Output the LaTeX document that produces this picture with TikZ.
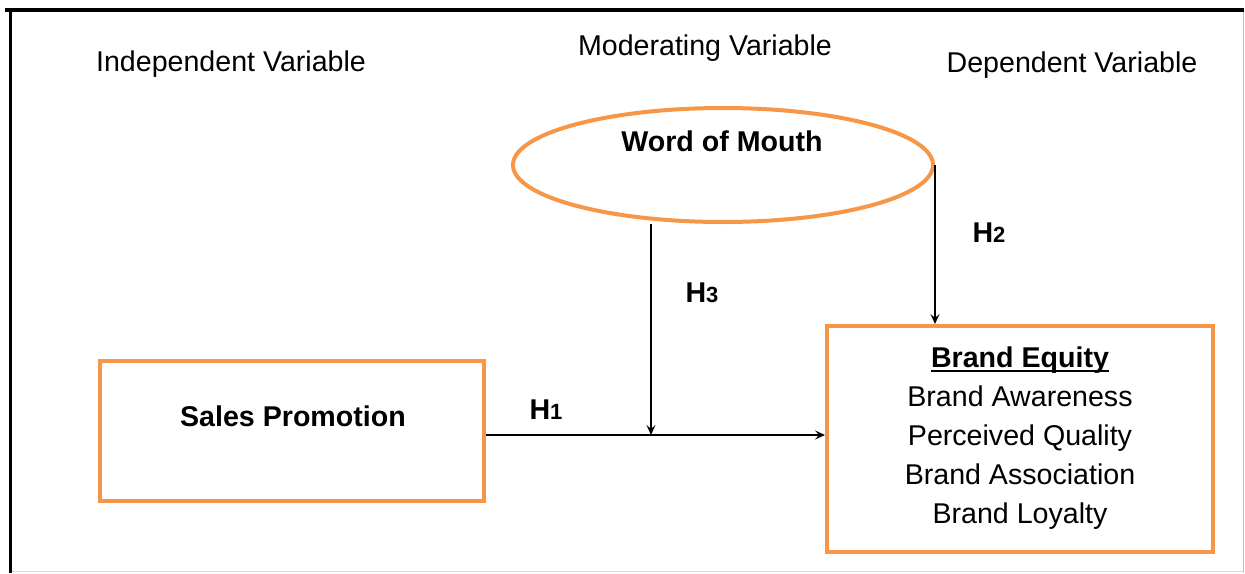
\documentclass[tikz,border=0pt]{standalone}
\usepackage{fontspec}
\setmainfont{Liberation Sans}
\usetikzlibrary{shapes.geometric,arrows.meta}
\definecolor{boxorange}{HTML}{F79646}
\newcommand{\hyp}[1]{\textbf{H\fontsize{22}{26}\selectfont #1}}
\newcommand{\thickul}[1]{\setbox0=\hbox{#1}\leavevmode\rlap{\raisebox{-4pt}{\rule{\wd0}{2.2pt}}}\box0}
\tikzset{
  txt/.style={font=\fontsize{28.6}{39}\selectfont, inner sep=0pt, text=black},
  orangebox/.style={draw=boxorange, line width=4pt},
  conn/.style={draw=black, line width=1.6pt, -{Stealth[length=10pt,width=9pt,inset=4pt]}},
  hlabel/.style={font=\fontsize{28.6}{34}\selectfont, inner sep=0pt}
}
\begin{document}
\begin{tikzpicture}[x=1pt,y=-1pt]
\useasboundingbox (0,0) rectangle (1245,573);
% frame
\draw[black!25, line width=1pt] (1243,10) -- (1243,573);
\draw[black!15, line width=1pt] (10,571) -- (1243,571);
\draw[black, line width=4pt] (5,10) -- (1244,10);
\draw[black, line width=3pt] (10,10) -- (10,573);
% headings
\node[txt] (ind) at (231,64) {Independent Variable};
\node[txt] (mod) at (705,48) {Moderating Variable};
\node[txt] (dep) at (1072,65) {Dependent Variable};
% shapes
\node[ellipse, orangebox, minimum width=420pt, minimum height=114pt, inner sep=0pt] (wom) at (723,165) {};
\node[txt, font=\fontsize{28.6}{34}\selectfont\bfseries] (womt) at (722,141) {Word of Mouth};
\node[rectangle, orangebox, minimum width=384pt, minimum height=140pt, inner sep=0pt] (sp) at (292,431) {};
\node[txt, font=\fontsize{28.6}{34}\selectfont\bfseries] (spt) at (293,416) {Sales Promotion};
\node[rectangle, orangebox, minimum width=386pt, minimum height=226pt, inner sep=0pt] (be) at (1020,439) {};
\node[txt, align=center, anchor=north] (bet) at (1020,347) {\textbf{\thickul{Brand Equity}}\\Brand Awareness\\Perceived Quality\\Brand Association\\Brand Loyalty};
% connectors
\coordinate (junc) at (651,435);
\draw[conn] (sp.east |- junc) -- (be.west |- junc);
\draw[conn] (wom.south -| junc) -- (junc);
\draw[conn] (wom.east) -- (wom.east |- be.north);
% labels
\node[hlabel] (h1) at (546,410) {\hyp{1}};
\node[hlabel] (h3) at (702,293) {\hyp{3}};
\node[hlabel] (h2) at (989,233) {\hyp{2}};
\end{tikzpicture}
\end{document}
